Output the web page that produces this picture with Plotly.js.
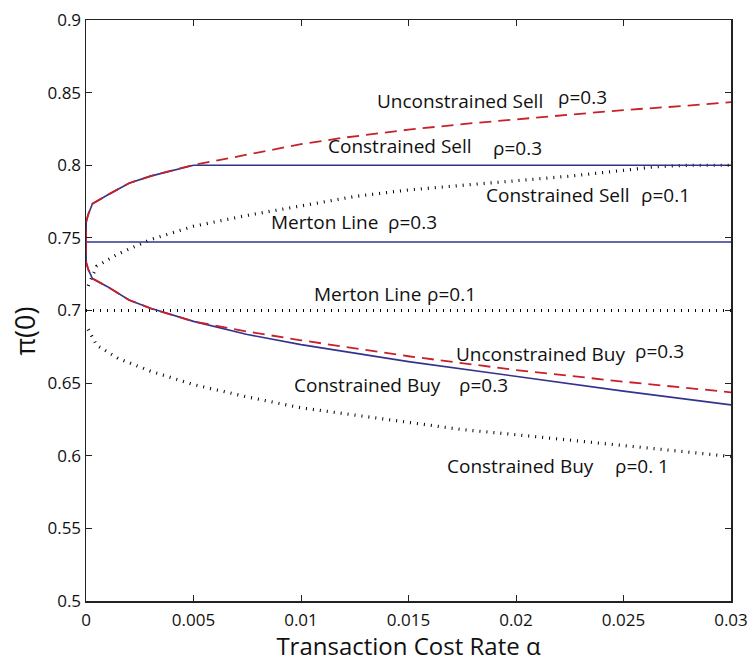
<!DOCTYPE html>
<html>
<head>
<meta charset="utf-8">
<script src="https://cdn.plot.ly/plotly-3.0.1.min.js"></script>
<style>html,body{margin:0;padding:0;background:#fff;}#chart{width:752px;height:662px;}</style>
</head>
<body>
<div id="chart"></div>
<script>
// ---- data ----
const alphaNear = [0, 0.00001, 0.0001, 0.0003, 0.001, 0.002, 0.003, 0.004, 0.005];
const sellNear  = [0.7475, 0.761, 0.766, 0.7735, 0.7795, 0.7876, 0.7925, 0.7965, 0.8002];
const buyNear   = [0.7475, 0.733, 0.7285, 0.722, 0.7164, 0.7072, 0.7015, 0.697, 0.6925];

const alphaSellFar = [0.006, 0.008, 0.01, 0.012, 0.015, 0.018, 0.02, 0.022, 0.025, 0.028, 0.03];
const unconSellFar = [0.803, 0.809, 0.8145, 0.819, 0.8245, 0.829, 0.8315, 0.834, 0.838, 0.841, 0.8435];

const alphaConSell = [0, 0.00001, 0.0001, 0.0003, 0.001, 0.002, 0.003, 0.004, 0.005, 0.03];
const conSell      = [0.7475, 0.761, 0.766, 0.7735, 0.7795, 0.7876, 0.7925, 0.7965, 0.8, 0.8];

const alphaBuyFar  = [0.0075, 0.01, 0.015, 0.02, 0.025, 0.03];
const unconBuyFar  = [0.6855, 0.6795, 0.6685, 0.659, 0.651, 0.6437];
const conBuyFar    = [0.6835, 0.6765, 0.6648, 0.6545, 0.6445, 0.635];

const alphaRho1 = [0.0001, 0.0005, 0.0015, 0.003, 0.005, 0.0075, 0.01, 0.0125, 0.015, 0.0175, 0.02, 0.0225, 0.025, 0.0265, 0.028, 0.03];
const sellRho1  = [0.717, 0.7305, 0.739, 0.7488, 0.758, 0.7655, 0.772, 0.7785, 0.783, 0.786, 0.789, 0.7925, 0.7965, 0.799, 0.8, 0.8];
const buyRho1   = [0.687, 0.676, 0.667, 0.6582, 0.649, 0.6405, 0.633, 0.628, 0.6228, 0.618, 0.6145, 0.6105, 0.607, 0.6048, 0.6025, 0.5995];

const mertonAlpha = [0, 0.03];
const merton03 = [0.7472, 0.7472];
const merton01 = [0.7, 0.7];

const xTicks = [0, 0.005, 0.01, 0.015, 0.02, 0.025, 0.03];
const yTicks = [0.5, 0.55, 0.6, 0.65, 0.7, 0.75, 0.8, 0.85, 0.9];

// ---- styles ----
const BLUE = '#33338f';
const RED = '#c8202a';
const solidBlue = {color: BLUE, width: 1.6};
const dashRed = {color: RED, width: 1.8, dash: '12px,7px'};
const dotBlack = {color: '#000', width: 3.2, dash: '1px,6px'};

const traces = [
  {x: mertonAlpha, y: merton01, mode: 'lines', line: dotBlack},
  {x: alphaRho1, y: sellRho1, mode: 'lines', line: dotBlack},
  {x: alphaRho1, y: buyRho1, mode: 'lines', line: dotBlack},
  {x: mertonAlpha, y: merton03, mode: 'lines', line: solidBlue},
  {x: alphaConSell, y: conSell, mode: 'lines', line: solidBlue},
  {x: alphaNear.concat(alphaBuyFar), y: buyNear.concat(conBuyFar), mode: 'lines', line: solidBlue},
  {x: alphaNear.concat(alphaSellFar), y: sellNear.concat(unconSellFar), mode: 'lines', line: dashRed},
  {x: alphaNear.concat(alphaBuyFar), y: buyNear.concat(unconBuyFar), mode: 'lines', line: dashRed}
];

const FONT = 'Open Sans, Noto Sans, sans-serif';
const labels = [
  ['Unconstrained Sell', 0.01344, 0.8442], ['ρ=0.3', 0.02186, 0.8470],
  ['Constrained Sell', 0.01116, 0.8133], ['ρ=0.3', 0.01886, 0.8120],
  ['Constrained Sell', 0.01851, 0.7793], ['ρ=0.1', 0.02572, 0.7793],
  ['Merton Line', 0.0085, 0.7611], ['ρ=0.3', 0.01395, 0.7611],
  ['Merton Line', 0.01051, 0.7114], ['ρ=0.1', 0.01575, 0.7114],
  ['Unconstrained Buy', 0.01712, 0.6700], ['ρ=0.3', 0.02546, 0.6723],
  ['Constrained Buy', 0.00957, 0.6489], ['ρ=0.3', 0.01727, 0.6489],
  ['Constrained Buy', 0.01668, 0.5932], ['ρ=0. 1', 0.02451, 0.5932]
];
const annotations = labels.map(l => ({
  text: l[0], x: l[1], y: l[2], xref: 'x', yref: 'y', xanchor: 'left', yanchor: 'middle',
  showarrow: false, font: {family: FONT, size: 19, color: '#111'}
}));
annotations.push({
  text: 'π(0)', textangle: -90, xref: 'paper', yref: 'paper', x: -0.095, y: 0.465,
  xanchor: 'center', yanchor: 'middle', showarrow: false,
  font: {family: FONT, size: 27, color: '#111'}
});

const axisCommon = {
  showgrid: false, zeroline: false, showline: true, linecolor: '#222', linewidth: 1.5,
  mirror: 'ticks', ticks: 'inside', ticklen: 6, tickwidth: 1, tickcolor: '#222',
  tickfont: {family: FONT, size: 17, color: '#111'}
};

const layout = {
  width: 752, height: 662,
  margin: {l: 86, r: 21, t: 20, b: 61},
  paper_bgcolor: '#fff', plot_bgcolor: '#fff',
  showlegend: false,
  xaxis: Object.assign({}, axisCommon, {
    range: [0, 0.03], tickvals: xTicks, ticklabelstandoff: 3,
    title: {text: 'Transaction Cost Rate α', font: {family: FONT, size: 24, color: '#111'}, standoff: 6}
  }),
  yaxis: Object.assign({}, axisCommon, {
    range: [0.5, 0.9], tickvals: yTicks
  }),
  annotations: annotations
};

Plotly.newPlot('chart', traces, layout, {displayModeBar: false, staticPlot: true});
</script>
</body>
</html>
